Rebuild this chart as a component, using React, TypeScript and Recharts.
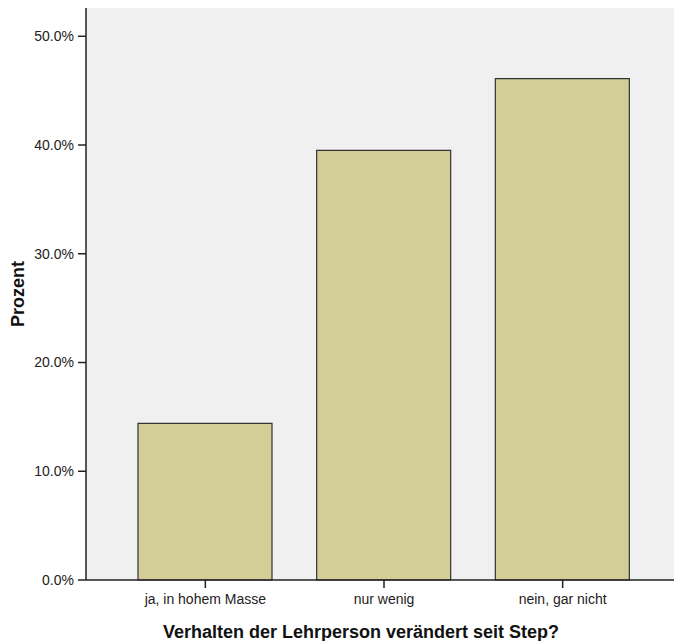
import * as React from "react";
import { BarChart, Bar, XAxis, YAxis, CartesianGrid, Label } from "recharts";

const categories = ["ja, in hohem Masse", "nur wenig", "nein, gar nicht"];
const percentValues = [14.4, 39.5, 46.1];
const yTicks = [0, 10, 20, 30, 40, 50];

const xTitle = "Verhalten der Lehrperson verändert seit Step?";
const yTitle = "Prozent";

const FONT = "'Liberation Sans', Arial, Helvetica, sans-serif";

interface Row {
  readonly category: string;
  readonly percent: number;
}

const data: Row[] = categories.map((category, i) => ({
  category,
  percent: percentValues[i],
}));

export default function App(): React.JSX.Element {
  return (
    <div style={{ position: "absolute", left: 0, top: 0, background: "#fff" }}>
      <BarChart
        width={674}
        height={641}
        data={data}
        margin={{ top: 8, right: 0, left: 0, bottom: 0 }}
        style={{ fontFamily: FONT }}
      >
        <CartesianGrid fill="#f0f0f0" stroke="none" horizontal={false} vertical={false} />
        <XAxis
          dataKey="category"
          height={61}
          padding={{ left: 30, right: 22 }}
          tickSize={8}
          tickMargin={6}
          axisLine={{ stroke: "#222", strokeWidth: 1.5 }}
          tickLine={{ stroke: "#222", strokeWidth: 1.5 }}
          tick={{ fontSize: 14, fill: "#222", fontFamily: FONT }}
          interval={0}
        >
          <Label
            content={({ viewBox }: any) => (
              <text
                x={viewBox.x + viewBox.width / 2 - 19}
                y={viewBox.y + 57.5}
                textAnchor="middle"
                fontSize={18}
                fontWeight="bold"
                fontFamily={FONT}
                fill="#111"
              >
                {xTitle}
              </text>
            )}
          />
        </XAxis>
        <YAxis
          type="number"
          width={86}
          domain={[0, 52.6]}
          ticks={yTicks}
          tickSize={8}
          tickMargin={4}
          tickFormatter={(v: number) => `${v.toFixed(1)}%`}
          axisLine={{ stroke: "#222", strokeWidth: 1.5 }}
          tickLine={{ stroke: "#222", strokeWidth: 1.5 }}
          tick={{ fontSize: 14, fill: "#222", fontFamily: FONT }}
        >
          <Label
            content={({ viewBox }: any) => {
              const cx = 24;
              const cy = viewBox.y + viewBox.height / 2;
              return (
                <text
                  x={cx}
                  y={cy}
                  textAnchor="middle"
                  transform={`rotate(-90, ${cx}, ${cy})`}
                  fontSize={18}
                  fontWeight="bold"
                  fontFamily={FONT}
                  fill="#111"
                >
                  {yTitle}
                </text>
              );
            }}
          />
        </YAxis>
        <Bar
          dataKey="percent"
          fill="#d3ce97"
          stroke="#333"
          strokeWidth={1.2}
          barSize={134}
          isAnimationActive={false}
        />
      </BarChart>
    </div>
  );
}
